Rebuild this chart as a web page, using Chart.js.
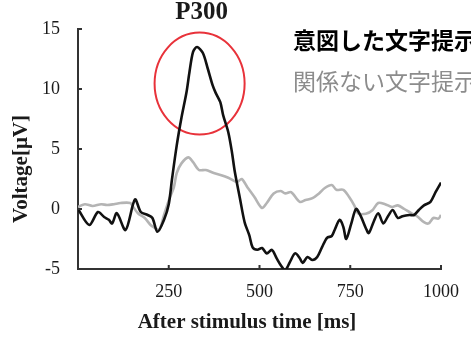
<!DOCTYPE html>
<html lang="ja">
<head>
<meta charset="utf-8">
<title>P300</title>
<script src="https://cdn.jsdelivr.net/npm/chart.js@4.4.1/dist/chart.umd.min.js"></script>
<style>
  html, body { margin: 0; padding: 0; background: #fff; }
  #wrap { width: 471px; height: 340px; position: relative; }
</style>
</head>
<body>
<div id="wrap"><canvas id="erp"></canvas></div>
<script>
// 意図した文字提示 (black)
var intendedTime = [0, 31, 55, 72, 85, 94, 107, 131, 157, 173, 192, 205, 219, 237, 250, 259, 272, 285, 299, 307,
  317, 328, 344, 357, 371, 379, 392, 400, 414, 424, 432, 446, 459, 472, 481, 494, 507, 520, 534, 547,
  561, 571, 584, 598, 611, 619, 632, 646, 659, 672, 686, 699, 707, 721, 731, 739, 753, 766, 779, 793,
  801, 814, 827, 841, 854, 867, 881, 894, 913, 926, 939, 953, 971, 985, 1000];
var intendedVolt = [0, -1.33, -0.25, -0.67, -0.9, -1.2, -0.35, -1.75, 0.8, -0.25, -0.5, -0.75, -1.9, -0.9, 0.4, 2.5, 5.3, 7.6, 9.75, 11.4,
  13.1, 13.5, 13, 11.75, 10.3, 9.7, 8.9, 7.8, 6.4, 4.75, 3.1, 0.9, -1.1, -2.2, -3.2, -3.4, -3.25, -3.7, -3.4, -4.1,
  -4.8, -5.1, -4.4, -3.7, -4.1, -4.5, -4, -4.25, -4, -3.2, -2.4, -2.25, -1.75, -0.9, -1.5, -2.5, -1.2, 0, -0.6, -1.6,
  -2, -1.1, -0.35, -1.2, -0.6, -0.08, -0.75, -0.6, -0.5, -0.5, -0.08, 0.3, 0.6, 1.4, 2.2];

// 関係ない文字提示 (gray)
var otherTime = [0, 19, 40, 64, 80, 99, 117, 144, 152, 165, 184, 200, 213, 224, 237, 251, 264, 272, 285, 304,
  317, 333, 352, 374, 397, 414, 438, 451, 467, 486, 507, 520, 539, 558, 571, 587, 611, 627, 646, 664,
  680, 699, 712, 731, 747, 761, 771, 793, 811, 827, 846, 865, 881, 899, 918, 934, 953, 966, 979, 993, 1000];
var otherVolt = [0.17, 0.4, 0.25, 0.4, 0.33, 0.4, 0.5, 0.5, 0.17, -0.35, -0.75, -1.33, -1.6, -1.75, -0.5, 0.8, 1.8, 3, 3.8, 4.3,
  3.9, 3.25, 3.25, 3, 2.8, 2.6, 2.25, 2.5, 1.8, 1, 0.08, 0.5, 1.3, 1.5, 1.3, 1.4, 0.6, 0.75, 0.9, 1.3,
  1.75, 2, 1.6, 1.6, 1, 0.3, -0.35, -0.4, -0.1, 0.5, 0.4, 0.17, 0.3, 0, -0.35, -0.6, -1.1, -1.2, -0.75, -0.8, -0.5];

var xTicks = [250, 500, 750, 1000];
var yTicks = [-5, 0, 5, 10, 15];
var legendNames = ['意図した文字提示', '関係ない文字提示'];
var peakName = 'P300';
var xTitle = 'After stimulus time [ms]';
var yTitle = 'Voltage[μV]';

// red ring around the peak, in data units (ms, μV)
var ringCenter = [335, 10.45];
var ringRadius = [124, 4.25];

function toPoints(xs, ys) {
  return xs.map(function (v, i) { return { x: v, y: ys[i] }; });
}

var serif = "'Liberation Serif', 'DejaVu Serif', serif";
var cjk = "'Noto Sans CJK JP', sans-serif";

var decor = {
  id: 'decor',
  beforeDatasetsDraw: function (chart) {
    var ctx = chart.ctx, sx = chart.scales.x, sy = chart.scales.y;
    var cx = sx.getPixelForValue(ringCenter[0]);
    var cy = sy.getPixelForValue(ringCenter[1]);
    var rx = sx.getPixelForValue(ringCenter[0] + ringRadius[0]) - cx;
    var ry = cy - sy.getPixelForValue(ringCenter[1] + ringRadius[1]);
    ctx.save();
    ctx.strokeStyle = '#e8323a';
    ctx.lineWidth = 2;
    ctx.beginPath();
    ctx.ellipse(cx, cy, rx, ry, 0, 0, Math.PI * 2);
    ctx.stroke();
    ctx.restore();
  },
  afterDraw: function (chart) {
    var ctx = chart.ctx, sx = chart.scales.x, sy = chart.scales.y;
    var area = chart.chartArea;
    ctx.save();
    // inward tick marks
    ctx.strokeStyle = '#333';
    ctx.lineWidth = 2;
    ctx.beginPath();
    xTicks.forEach(function (v) {
      var px = sx.getPixelForValue(v);
      ctx.moveTo(px, area.bottom);
      ctx.lineTo(px, area.bottom - 4);
    });
    yTicks.forEach(function (v) {
      var py = sy.getPixelForValue(v);
      ctx.moveTo(area.left, py);
      ctx.lineTo(area.left + 4, py);
    });
    ctx.stroke();

    // titles
    ctx.fillStyle = '#1a1a1a';
    ctx.textAlign = 'center';
    ctx.textBaseline = 'middle';
    ctx.font = 'bold 25px ' + serif;
    ctx.fillText(peakName, sx.getPixelForValue(ringCenter[0]) + 2, 13);
    ctx.font = 'bold 21px ' + serif;
    ctx.fillText(xTitle, 247, 323);
    ctx.save();
    ctx.translate(22, 169);
    ctx.rotate(-Math.PI / 2);
    ctx.fillText(yTitle, 0, 0);
    ctx.restore();

    // legend texts
    ctx.textAlign = 'left';
    ctx.fillStyle = '#000';
    ctx.font = 'bold 23px ' + cjk;
    ctx.fillText(legendNames[0], 293, 40);
    ctx.fillStyle = '#8c8c8c';
    ctx.font = '23px ' + cjk;
    ctx.fillText(legendNames[1], 293, 81);
    ctx.restore();
  }
};

new Chart(document.getElementById('erp'), {
  type: 'line',
  data: {
    datasets: [
      {
        label: legendNames[0],
        data: toPoints(intendedTime, intendedVolt),
        borderColor: '#111',
        borderWidth: 2.6,
        pointRadius: 0,
        tension: 0.3,
        fill: false
      },
      {
        label: legendNames[1],
        data: toPoints(otherTime, otherVolt),
        borderColor: '#b4b4b4',
        borderWidth: 2.6,
        pointRadius: 0,
        tension: 0.3,
        fill: false
      }
    ]
  },
  options: {
    responsive: true,
    maintainAspectRatio: false,
    animation: false,
    layout: { padding: { left: 0, right: 19, top: 29, bottom: 0 } },
    plugins: {
      legend: { display: false },
      tooltip: { enabled: false }
    },
    scales: {
      x: {
        type: 'linear',
        min: 0,
        max: 1000,
        afterBuildTicks: function (s) { s.ticks = xTicks.map(function (v) { return { value: v }; }); },
        afterFit: function (s) { s.height = 71; },
        grid: { display: false, drawTicks: false },
        border: { display: true, color: '#333', width: 2 },
        ticks: {
          color: '#1a1a1a', padding: 12, maxRotation: 0,
          font: { family: serif, size: 18 },
          callback: function (v) { return String(v); }
        }
      },
      y: {
        min: -5,
        max: 15,
        afterBuildTicks: function (s) { s.ticks = yTicks.map(function (v) { return { value: v }; }); },
        afterFit: function (s) { s.width = 78; },
        grid: { display: false, drawTicks: false },
        border: { display: true, color: '#333', width: 2 },
        ticks: {
          color: '#1a1a1a', padding: 18,
          font: { family: serif, size: 18 },
          callback: function (v) { return String(v); }
        }
      }
    }
  },
  plugins: [decor]
});
</script>
</body>
</html>
